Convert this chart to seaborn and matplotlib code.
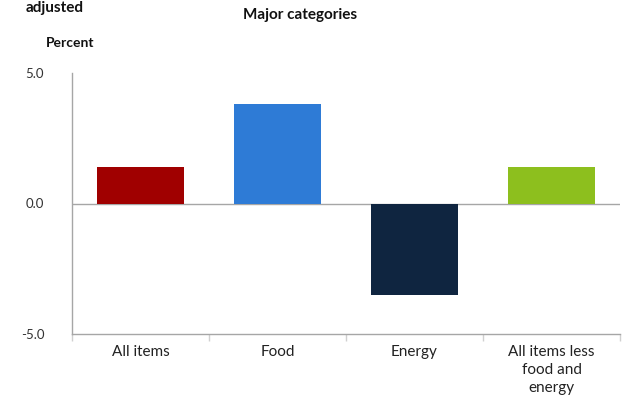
import matplotlib
matplotlib.use("Agg")
import matplotlib.pyplot as plt
import seaborn as sns
import pandas as pd
import numpy as np

categories = ["All items", "Food", "Energy", "All items less\nfood and\nenergy"]
values = [1.4, 3.8, -3.5, 1.4]
colors = ["#a00000", "#2e7bd6", "#0f2540", "#8dbf1e"]
yticks = [-5.0, 0.0, 5.0]

sns.set_theme(style="white")
plt.rcParams["font.family"] = ["Lato", "DejaVu Sans"]

df = pd.DataFrame({"category": categories, "value": values})

fig = plt.figure(figsize=(6.24, 4.16), dpi=100)
ax = fig.add_axes([72/624, 1-334/416, (620-72)/624, (334-73)/416])
sns.barplot(data=df, x="category", y="value", hue="category", palette=colors,
            legend=False, width=0.63, ax=ax, saturation=1, linewidth=0)

ax.set_ylim(-5, 5)
ax.set_xlim(-0.5, 3.5)
ax.set_yticks(yticks)
ax.set_yticklabels([f"{v:.1f}" for v in yticks], fontsize=9.5, color="#333333")
ax.axhline(0, color="#a6a6a6", lw=1, zorder=0)
ax.set_xlabel("")
ax.set_ylabel("")
ax.tick_params(axis="x", length=0, labelsize=11, pad=8, labelcolor="#222222")
for lbl in ax.get_xticklabels():
    lbl.set_linespacing(1.35)
ax.tick_params(axis="y", length=0, pad=20)
ax.set_xticks(np.arange(-0.5, 4.0, 1.0), minor=True)
ax.tick_params(axis="x", which="minor", length=5, color="#d0d0d0", width=1, direction="out", bottom=True)
for s in ["top", "right"]:
    ax.spines[s].set_visible(False)
for s in ["left", "bottom"]:
    ax.spines[s].set_color("#a6a6a6")
    ax.spines[s].set_linewidth(1)

fig.text(300/624, 1-15/416, "Major categories", ha="center", va="center", fontsize=11, fontweight="bold", color="#111111")
fig.text(70/624, 1-43/416, "Percent", ha="center", va="center", fontsize=10, fontweight="bold", color="#111111")
fig.text(55/624, 1-1/416, "adjusted", ha="center", va="top", fontsize=11, fontweight="bold", color="#111111")

fig.savefig("out.png", dpi=100)
